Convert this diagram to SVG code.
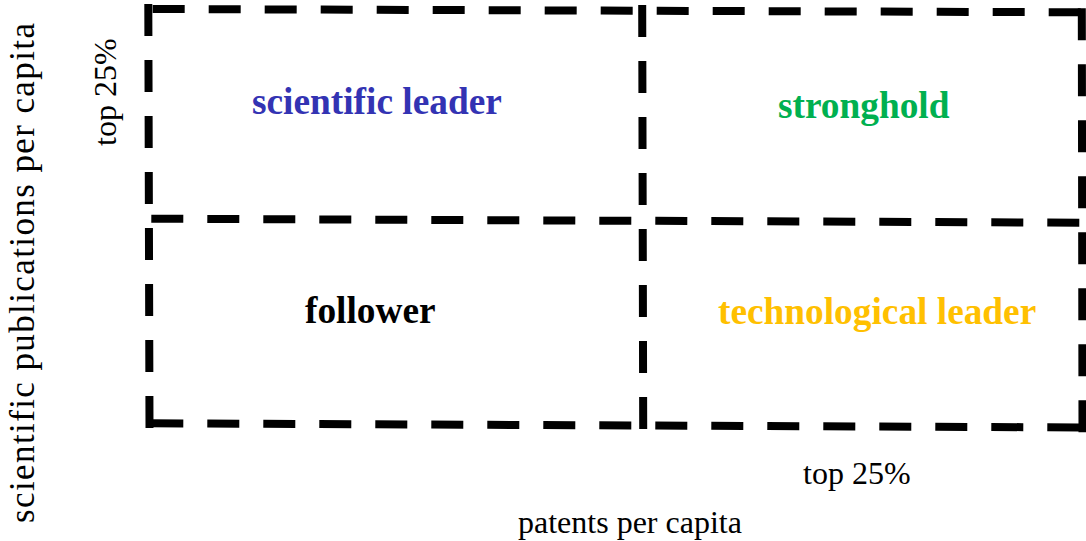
<svg xmlns="http://www.w3.org/2000/svg" width="1086" height="541" viewBox="0 0 1086 541">
<style>
.edge{stroke:#000;stroke-width:8;stroke-dasharray:32 24;stroke-linecap:butt;fill:none}
.lbl{font-family:"Liberation Serif","Times New Roman",serif;font-weight:bold;font-size:37.33px}
.axis{font-family:"Liberation Serif","Times New Roman",serif;font-size:32px;fill:#000}
</style>
<rect width="1086" height="541" fill="#fff"/>
<g id="scientific-leader">
<line class="edge" x1="152.7" y1="9.0" x2="632.7" y2="10.71"/>
<line class="edge" x1="148.3" y1="4" x2="148.87" y2="204"/>
<line class="edge" x1="642.2" y1="5" x2="642.67" y2="205"/>
<line class="edge" x1="151.3" y1="218.7" x2="631.3" y2="220.77"/>
<text class="lbl" x="252" y="114" fill="#3333B3">scientific leader</text>
</g>
<g id="stronghold">
<line class="edge" x1="656.7" y1="10.79" x2="1080.7" y2="12.3"/>
<line class="edge" x1="1081.8" y1="8.3" x2="1082.13" y2="208.3"/>
<line class="edge" x1="655.3" y1="220.87" x2="1079.3" y2="222.7"/>
<text class="lbl" x="778" y="118" fill="#00B050">stronghold</text>
</g>
<g id="follower">
<line class="edge" x1="148.93" y1="228" x2="149.5" y2="428"/>
<line class="edge" x1="642.73" y1="229" x2="643.2" y2="429"/>
<line class="edge" x1="151.3" y1="423.3" x2="631.3" y2="425.42"/>
<text class="lbl" x="305" y="323" fill="#000">follower</text>
</g>
<g id="technological-leader">
<line class="edge" x1="1082.17" y1="232.3" x2="1082.5" y2="432.3"/>
<line class="edge" x1="655.3" y1="425.53" x2="1079.3" y2="427.4"/>
<text class="lbl" x="718" y="324" fill="#FFC000">technological leader</text>
</g>
<g id="axes">
<text class="axis" transform="translate(116,146) rotate(-90)">top 25%</text>
<text class="axis" style="font-size:35px" textLength="500" lengthAdjust="spacing" transform="translate(34,523) rotate(-90)">scientific publications per capita</text>
<text class="axis" x="803" y="484">top 25%</text>
<text class="axis" x="518" y="533">patents per capita</text>
</g>
</svg>
